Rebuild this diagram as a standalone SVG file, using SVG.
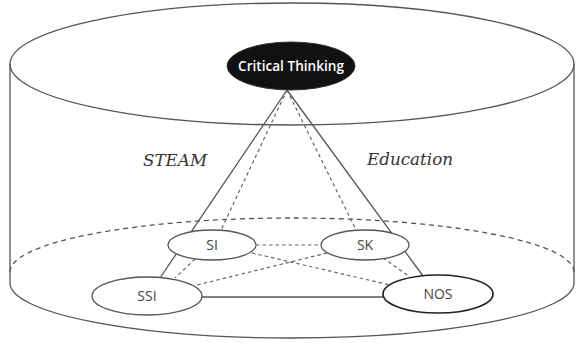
<svg xmlns="http://www.w3.org/2000/svg" width="576" height="343" viewBox="0 0 576 343">
<style>
.solid{fill:none;stroke:#555;stroke-width:1.3}
.dash{fill:none;stroke:#666;stroke-width:1.2;stroke-dasharray:3.5,3}
.bigdash{fill:none;stroke:#555;stroke-width:1.3;stroke-dasharray:5,4}
.node{fill:#fff;stroke:#555;stroke-width:1.3}
.lbl{font-family:"Open Sans","Liberation Sans",sans-serif;font-size:14px;fill:#444;text-anchor:middle}
.script{font-family:"DejaVu Serif","Liberation Serif",serif;font-style:italic;font-size:16px;fill:#333;text-anchor:middle}
</style>
<rect width="576" height="343" fill="#fff"/>
<g id="cylinder">
<ellipse class="solid" cx="292" cy="64" rx="282" ry="61"/>
<path class="solid" d="M10 64 V283 A282 55 0 0 0 574 283 V64"/>
<path class="bigdash" d="M10 272 A282 54 0 0 1 574 272"/>
</g>
<g id="labels">
<text class="script" x="175" y="166" textLength="64" lengthAdjust="spacingAndGlyphs">STEAM</text>
<text class="script" x="410" y="165" textLength="86" lengthAdjust="spacingAndGlyphs">Education</text>
</g>
<g id="connectors">
<line class="solid" x1="287" y1="90" x2="160" y2="278"/>
<line class="solid" x1="287" y1="90" x2="423" y2="276"/>
<line class="dash" x1="287" y1="90" x2="221" y2="230"/>
<line class="dash" x1="287" y1="90" x2="356" y2="230"/>
<line class="dash" x1="256" y1="245" x2="321" y2="245"/>
<line class="dash" x1="252" y1="253" x2="390" y2="285"/>
<line class="dash" x1="327" y1="253" x2="197" y2="285"/>
<line class="dash" x1="195" y1="259" x2="175" y2="278"/>
<line class="dash" x1="383" y1="258" x2="410" y2="277"/>
<line class="solid" x1="202" y1="297" x2="384" y2="297"/>
</g>
<g id="critical-thinking">
<ellipse cx="291" cy="66" rx="64" ry="24" fill="#111" stroke="#333" stroke-width="1"/>
<text class="lbl" x="291" y="71" style="fill:#fff;font-weight:600" textLength="106" lengthAdjust="spacingAndGlyphs">Critical Thinking</text>
</g>
<g id="SI">
<ellipse class="node" cx="212" cy="245" rx="44" ry="15"/>
<text class="lbl" x="212" y="250">SI</text>
</g>
<g id="SK">
<ellipse class="node" cx="365" cy="245" rx="44" ry="15"/>
<text class="lbl" x="365" y="250">SK</text>
</g>
<g id="SSI">
<ellipse class="node" cx="147" cy="296" rx="55" ry="19"/>
<text class="lbl" x="147" y="301">SSI</text>
</g>
<g id="NOS">
<ellipse class="node" cx="438" cy="294" rx="55" ry="19" style="stroke:#222;stroke-width:1.7"/>
<text class="lbl" x="438" y="299">NOS</text>
</g>
</svg>
